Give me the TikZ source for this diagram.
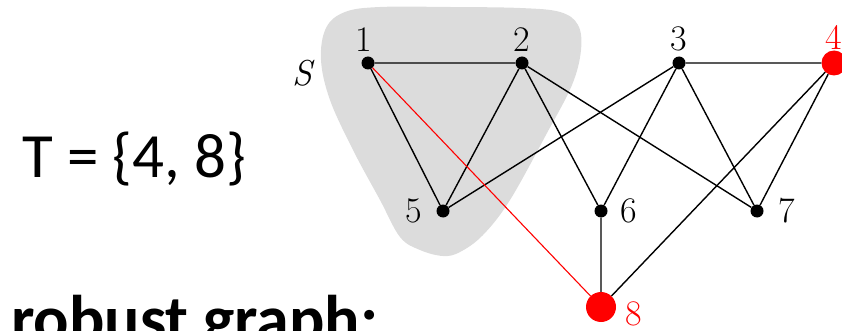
\documentclass[tikz,border=0pt]{standalone}
\usepackage{fontspec}
\newfontfamily\carlito{Carlito}
\usepackage{tikz}
\usetikzlibrary{positioning}
\definecolor{blobgrey}{HTML}{DCDCDC}
\definecolor{termred}{HTML}{FF0000}

\begin{document}
\begin{tikzpicture}[
    x=1pt, y=-1pt,
    vtx/.style={circle, fill=black, inner sep=0pt, minimum size=13pt},
    term/.style={vtx, fill=termred},
    lbl/.style={inner sep=0pt, font=\fontsize{36}{36}\selectfont},
    txt/.style={inner sep=0pt, anchor=base west, font=\carlito\fontsize{63}{63}\selectfont},
    edge/.style={line width=1.4pt},
    redge/.style={line width=1.1pt, termred}]
  \useasboundingbox (0,0) rectangle (842,331);
  \clip (0,0) rectangle (842,331);
  % the set S
  \fill[blobgrey] plot[smooth cycle, tension=0.6] coordinates {
    (326,28) (345,12) (380,7) (450,7) (520,8) (560,12) (578,25) (581,50)
    (572,85) (547,133) (510,200) (483,235) (460,252) (443,256) (420,250)
    (400,237) (380,200) (353,150) (330,100) (321,60)};
  % vertices
  \node[vtx] (v1) at (368,63) {};
  \node[vtx] (v2) at (522,63) {};
  \node[vtx] (v3) at (679,63) {};
  \node[term, minimum size=25pt] (v4) at (834,63) {};
  \node[vtx] (v5) at (443,211) {};
  \node[vtx] (v6) at (601,211) {};
  \node[vtx] (v7) at (757,211) {};
  \node[term, minimum size=30pt] (v8) at (601,307) {};
  \node[lbl, above=5pt of v1, xshift=-4pt] (l1) {1};
  \node[lbl, above=5pt of v2] (l2) {2};
  \node[lbl, above=5pt of v3] (l3) {3};
  \node[lbl, termred, above=1pt of v4] (l4) {4};
  \node[lbl, left=14pt of v5] (l5) {5};
  \node[lbl, right=13pt of v6] (l6) {6};
  \node[lbl, right=15pt of v7] (l7) {7};
  \node[lbl, termred, below right=-16pt and 14pt of v8] (l8) {8};
  \node[lbl] (ls) at (302,73) {\itshape S};
  % edges
  \draw[edge] (v1) -- (v2) (v1) -- (v5) (v2) -- (v5) (v2) -- (v6) (v2) -- (v7);
  \draw[edge] (v3) -- (v4) (v3) -- (v5) (v3) -- (v6) (v3) -- (v7);
  \draw[edge] (v4) -- (v7) (v4) -- (v8) (v6) -- (v8);
  \draw[redge] (v1) -- (v8);
  % text
  \node[txt] (tset) at (22,178) {T = \{4, 8\}};
  \node[txt, font=\carlito\bfseries\fontsize{66}{66}\selectfont] (rob) at (11,341) {robust graph:};
\end{tikzpicture}
\end{document}
